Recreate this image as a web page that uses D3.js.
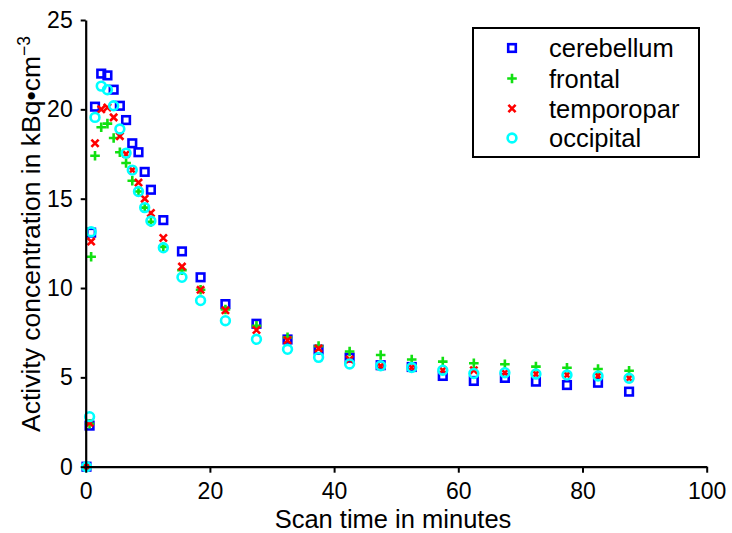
<!DOCTYPE html>
<html>
<head>
<meta charset="utf-8">
<script src="https://cdn.jsdelivr.net/npm/d3@7"></script>
<style>
  html, body { margin: 0; padding: 0; background: #fff; }
  svg { display: block; }
  text { font-family: "Liberation Sans", Arial, Helvetica, sans-serif; fill: #000; }
</style>
</head>
<body>
<svg id="chart" width="732" height="533"></svg>
<script>
// ---- data ----
const times = [0.125, 0.625, 0.875, 1.5, 2.5, 3.5, 4.5, 5.5, 6.5, 7.5, 8.5, 9.5, 10.5, 12.5, 15.5, 18.5, 22.5,
  27.5, 32.5, 37.5, 42.5, 47.5, 52.5, 57.5, 62.5, 67.5, 72.5, 77.5, 82.5, 87.5];
const cerebellum = [0, 2.3, 13.1, 20.15, 22.0, 21.9, 21.1, 20.2, 19.4, 18.1, 17.6, 16.5, 15.5, 13.8, 12.05, 10.6, 9.1,
  8.0, 7.12, 6.55, 6.1, 5.68, 5.58, 5.08, 4.8, 4.97, 4.76, 4.57, 4.7, 4.2];
const frontal = [0, 2.4, 11.75, 17.4, 19.0, 19.2, 18.4, 17.6, 17.0, 16.0, 15.4, 14.5, 13.7, 12.3, 11.0, 9.9, 8.8,
  7.88, 7.24, 6.75, 6.45, 6.25, 6.0, 5.88, 5.79, 5.73, 5.6, 5.54, 5.47, 5.37];
const temporopar = [0, 2.45, 12.6, 18.1, 20.0, 20.1, 19.55, 18.5, 17.5, 16.6, 15.9, 15.0, 14.2, 12.8, 11.2, 9.9, 8.75,
  7.65, 7.08, 6.62, 6.0, 5.63, 5.55, 5.4, 5.4, 5.26, 5.19, 5.13, 5.08, 4.95];
const occipital = [0, 2.8, 13.15, 19.55, 21.3, 21.1, 20.2, 18.9, 17.55, 16.6, 15.4, 14.5, 13.75, 12.25, 10.6, 9.3, 8.17,
  7.13, 6.57, 6.12, 5.75, 5.65, 5.55, 5.4, 5.22, 5.26, 5.19, 5.13, 5.08, 4.95];
const seriesNames = ["cerebellum", "frontal", "temporopar", "occipital"];
const xTicks = [0, 20, 40, 60, 80, 100];
const yTicks = [0, 5, 10, 15, 20, 25];

const seriesData = [cerebellum, frontal, temporopar, occipital];
const colors = ["#0000ff", "#11e011", "#ff0000", "#00ffff"];
const shapes = ["square", "plus", "cross", "circle"];

// ---- layout ----
const svg = d3.select("#chart");
const x = d3.scaleLinear().domain([0, 100]).range([85.7, 706.7]);
const y = d3.scaleLinear().domain([0, 25]).range([466.7, 20]);

function drawMarker(g, shape, color) {
  const sw = 2.6;
  if (shape === "square") {
    g.append("rect").attr("x", -3.8).attr("y", -3.8).attr("width", 7.6).attr("height", 7.6)
      .attr("fill", "none").attr("stroke", color).attr("stroke-width", sw);
  } else if (shape === "circle") {
    g.append("circle").attr("r", 4.4).attr("fill", "none").attr("stroke", color).attr("stroke-width", sw);
  } else if (shape === "plus") {
    g.append("path").attr("d", "M-4.8,0H4.8M0,-4.8V4.8").attr("stroke", color).attr("stroke-width", sw).attr("fill", "none");
  } else if (shape === "cross") {
    g.append("path").attr("d", "M-3.6,-3.6L3.6,3.6M-3.6,3.6L3.6,-3.6").attr("stroke", color).attr("stroke-width", sw).attr("fill", "none");
  }
}

// points
seriesData.forEach((vals, si) => {
  const g = svg.append("g").attr("class", "series-" + seriesNames[si]);
  vals.forEach((v, i) => {
    const m = g.append("g").attr("transform", `translate(${x(times[i])},${y(v)})`);
    drawMarker(m, shapes[si], colors[si]);
  });
});

// axes
const fs = 23;
const fsTitle = 25.5;
const xAxis = d3.axisBottom(x).tickValues(xTicks).tickSize(6).tickPadding(10).tickSizeOuter(0);
const gx = svg.append("g").attr("transform", `translate(0,${y(0)})`).call(xAxis);
gx.select(".domain").attr("stroke-width", 2.2).attr("stroke", "#000");
gx.selectAll(".tick line").attr("stroke-width", 2).attr("stroke", "#000");
gx.selectAll(".tick text").attr("font-size", fs).attr("font-family", "Liberation Sans, Arial, sans-serif").attr("fill", "#000");

const yAxis = d3.axisLeft(y).tickValues(yTicks).tickSize(5).tickPadding(8).tickSizeOuter(0);
const gy = svg.append("g").attr("transform", `translate(${x(0)},0)`).call(yAxis);
gy.select(".domain").attr("stroke-width", 2.2).attr("stroke", "#000");
gy.selectAll(".tick line").attr("stroke-width", 2).attr("stroke", "#000");
gy.selectAll(".tick text").attr("font-size", fs).attr("font-family", "Liberation Sans, Arial, sans-serif").attr("fill", "#000");

// axis titles
svg.append("text").attr("x", 393).attr("y", 528).attr("text-anchor", "middle")
  .attr("font-size", fsTitle).text("Scan time in minutes");
const yt = svg.append("text").attr("transform", "translate(40,234) rotate(-90)").attr("text-anchor", "middle")
  .attr("font-size", 26.5);
yt.append("tspan").text("Activity concentration in kBq\u2022cm");
yt.append("tspan").attr("dy", -10).attr("font-size", 17.5).text("\u22123");

// legend
const lg = svg.append("g");
lg.append("rect").attr("x", 473).attr("y", 28).attr("width", 226).attr("height", 129)
  .attr("fill", "#fff").attr("stroke", "#000").attr("stroke-width", 2);
const rowsY = [48, 78.5, 108.5, 138];
seriesNames.forEach((name, i) => {
  const m = lg.append("g").attr("transform", `translate(512,${rowsY[i]})`);
  drawMarker(m, shapes[i], colors[i]);
  lg.append("text").attr("x", 549).attr("y", rowsY[i]).attr("dy", "0.36em").attr("font-size", fsTitle).text(name);
});
</script>
</body>
</html>
